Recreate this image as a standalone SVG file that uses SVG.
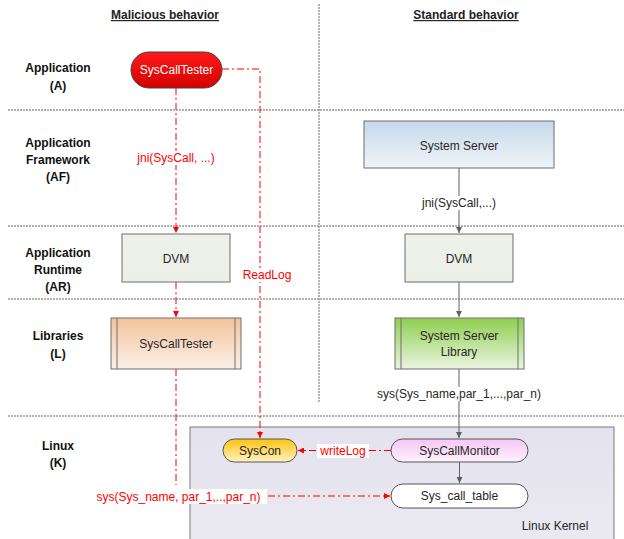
<svg xmlns="http://www.w3.org/2000/svg" width="624" height="539" viewBox="0 0 624 539">
<defs>
<linearGradient id="gRed" x1="0" y1="0" x2="0" y2="1"><stop offset="0" stop-color="#ff1a1a"/><stop offset="1" stop-color="#d40000"/></linearGradient>
<linearGradient id="gBlue" x1="0" y1="0" x2="0" y2="1"><stop offset="0" stop-color="#c5d8ea"/><stop offset="1" stop-color="#f0f4f9"/></linearGradient>
<linearGradient id="gGrey" x1="0" y1="0" x2="0" y2="1"><stop offset="0" stop-color="#eef0ea"/><stop offset="1" stop-color="#eceee8"/></linearGradient>
<linearGradient id="gOrange" x1="0" y1="0" x2="0" y2="1"><stop offset="0" stop-color="#f3c29b"/><stop offset="1" stop-color="#fbf0e8"/></linearGradient>
<linearGradient id="gGreen" x1="0" y1="0" x2="0" y2="1"><stop offset="0" stop-color="#8fce4f"/><stop offset="1" stop-color="#eaf5e0"/></linearGradient>
<linearGradient id="gKernel" x1="0" y1="0" x2="0" y2="1"><stop offset="0" stop-color="#e4e2ee"/><stop offset="1" stop-color="#ebeaf1"/></linearGradient>
<linearGradient id="gYellow" x1="0" y1="0" x2="0" y2="1"><stop offset="0" stop-color="#ffc20e"/><stop offset="1" stop-color="#fff3c4"/></linearGradient>
<linearGradient id="gPink" x1="0" y1="0" x2="0" y2="1"><stop offset="0" stop-color="#f5c6f5"/><stop offset="1" stop-color="#fdf2fd"/></linearGradient>
<marker id="aRed" viewBox="0 0 10 10" refX="10" refY="5" markerWidth="6" markerHeight="6" orient="auto" markerUnits="userSpaceOnUse"><path d="M0,0 L10,5 L0,10 z" fill="#ff0000"/></marker>
<marker id="aGrey" viewBox="0 0 10 10" refX="10" refY="5" markerWidth="6" markerHeight="6" orient="auto" markerUnits="userSpaceOnUse"><path d="M0,0 L10,5 L0,10 z" fill="#606060"/></marker>
</defs>
<style>
.sep{stroke:#666;stroke-width:1;stroke-dasharray:2 1;fill:none}
.lbl{font-family:"Liberation Sans",Arial,sans-serif;font-size:12px;font-weight:bold;fill:#111;text-anchor:middle}
.ttl{font-family:"Liberation Sans",Arial,sans-serif;font-size:12px;font-weight:bold;fill:#222;text-anchor:middle;text-decoration:underline}
.txt{font-family:"Liberation Sans",Arial,sans-serif;font-size:12px;fill:#262626;text-anchor:middle}
.rtxt{font-family:"Liberation Sans",Arial,sans-serif;font-size:12px;fill:#ff0000;text-anchor:middle}
.box{stroke:#6f6f6f;stroke-width:1}
.red{stroke:#ff0000;stroke-width:1;fill:none;stroke-dasharray:7 3 2 3}
.grey{stroke:#606060;stroke-width:1;fill:none}
</style>
<rect width="624" height="539" fill="#ffffff"/>
<g id="layout">
<line class="sep" x1="319" y1="4" x2="319" y2="402"/>
<line class="sep" x1="8" y1="110" x2="624" y2="110"/>
<line class="sep" x1="8" y1="226" x2="624" y2="226"/>
<line class="sep" x1="8" y1="299" x2="624" y2="299"/>
<line class="sep" x1="8" y1="416" x2="624" y2="416"/>
<text class="ttl" x="165" y="19">Malicious behavior</text>
<text class="ttl" x="466" y="19">Standard behavior</text>
<text class="lbl" x="58" y="72">Application</text>
<text class="lbl" x="58" y="90">(A)</text>
<text class="lbl" x="58" y="147">Application</text>
<text class="lbl" x="58" y="164">Framework</text>
<text class="lbl" x="58" y="181">(AF)</text>
<text class="lbl" x="58" y="257">Application</text>
<text class="lbl" x="58" y="274">Runtime</text>
<text class="lbl" x="58" y="291">(AR)</text>
<text class="lbl" x="58" y="340">Libraries</text>
<text class="lbl" x="58" y="358">(L)</text>
<text class="lbl" x="58" y="450">Linux</text>
<text class="lbl" x="58" y="467">(K)</text>
</g>
<g id="kernel">
<rect x="190" y="427" width="424" height="120" fill="url(#gKernel)" stroke="#7a7a7a" stroke-width="1"/>
<text class="txt" x="555" y="530">Linux Kernel</text>
</g>
<g id="syscalltester-app">
<rect x="131" y="52" width="91" height="36" rx="18" fill="url(#gRed)" stroke="#404040" stroke-width="1"/>
<text class="txt" x="176.5" y="74" fill="#ffffff" style="fill:#ffffff">SysCallTester</text>
</g>
<g id="system-server">
<rect class="box" x="364" y="121" width="190" height="47" fill="url(#gBlue)"/>
<text class="txt" x="459" y="150">System Server</text>
</g>
<g id="dvm-left">
<rect class="box" x="122" y="234" width="108" height="48" fill="url(#gGrey)"/>
<text class="txt" x="176" y="263">DVM</text>
</g>
<g id="dvm-right">
<rect class="box" x="405" y="234" width="108" height="48" fill="url(#gGrey)"/>
<text class="txt" x="459" y="263">DVM</text>
</g>
<g id="syscalltester-lib">
<rect class="box" x="111" y="318" width="130" height="51" fill="url(#gOrange)"/>
<line class="box" x1="117" y1="318" x2="117" y2="369"/>
<line class="box" x1="235" y1="318" x2="235" y2="369"/>
<text class="txt" x="176" y="348">SysCallTester</text>
</g>
<g id="system-server-library">
<rect class="box" x="395" y="318" width="129" height="51" fill="url(#gGreen)"/>
<line class="box" x1="401" y1="318" x2="401" y2="369"/>
<line class="box" x1="518" y1="318" x2="518" y2="369"/>
<text class="txt" x="459" y="340">System Server</text>
<text class="txt" x="459" y="356">Library</text>
</g>
<g id="syscon">
<rect x="223" y="439" width="74" height="23" rx="11.5" fill="url(#gYellow)" stroke="#555" stroke-width="1"/>
<text class="txt" x="260" y="455">SysCon</text>
</g>
<g id="syscallmonitor">
<rect x="391" y="439" width="137" height="23" rx="11.5" fill="url(#gPink)" stroke="#555" stroke-width="1"/>
<text class="txt" x="459.5" y="455">SysCallMonitor</text>
</g>
<g id="sys-call-table">
<rect x="391" y="484" width="137" height="24" rx="12" fill="#ffffff" stroke="#555" stroke-width="1"/>
<text class="txt" x="459.5" y="500">Sys_call_table</text>
</g>
<g id="connectors">
<path class="red" d="M176,88 L176,233" marker-end="url(#aRed)"/>
<path class="red" d="M176,282 L176,317" marker-end="url(#aRed)"/>
<path class="red" d="M176,369 L176,485"/>
<path class="red" d="M222,69 L260,69 L260,438" marker-end="url(#aRed)"/>
<path class="red" d="M268,496 L390,496" marker-end="url(#aRed)"/>
<path class="red" d="M391,450.5 L298,450.5" marker-end="url(#aRed)"/>
<path class="grey" d="M459,168 L459,233" marker-end="url(#aGrey)"/>
<path class="grey" d="M459,282 L459,317" marker-end="url(#aGrey)"/>
<path class="grey" d="M459,369 L459,438" marker-end="url(#aGrey)"/>
<path class="grey" d="M459.5,462 L459.5,483" marker-end="url(#aGrey)"/>
<rect x="135" y="151" width="82" height="14" fill="#ffffff"/>
<text class="rtxt" x="176" y="162">jni(SysCall, ...)</text>
<rect x="242" y="268" width="50" height="14" fill="#ffffff"/>
<text class="rtxt" x="267" y="279">ReadLog</text>
<rect x="90" y="489" width="177" height="15" fill="#ffffff"/>
<text class="rtxt" x="178.5" y="501">sys(Sys_name, par_1,..,par_n)</text>
<rect x="317" y="444" width="52" height="14" fill="#ffffff"/>
<text class="rtxt" x="343" y="455">writeLog</text>
<rect x="412" y="196" width="94" height="14" fill="#ffffff"/>
<text class="txt" x="459" y="207">jni(SysCall,...)</text>
<rect x="370" y="387" width="179" height="14" fill="#ffffff"/>
<text class="txt" x="459" y="398">sys(Sys_name,par_1,...,par_n)</text>
</g>
</svg>
